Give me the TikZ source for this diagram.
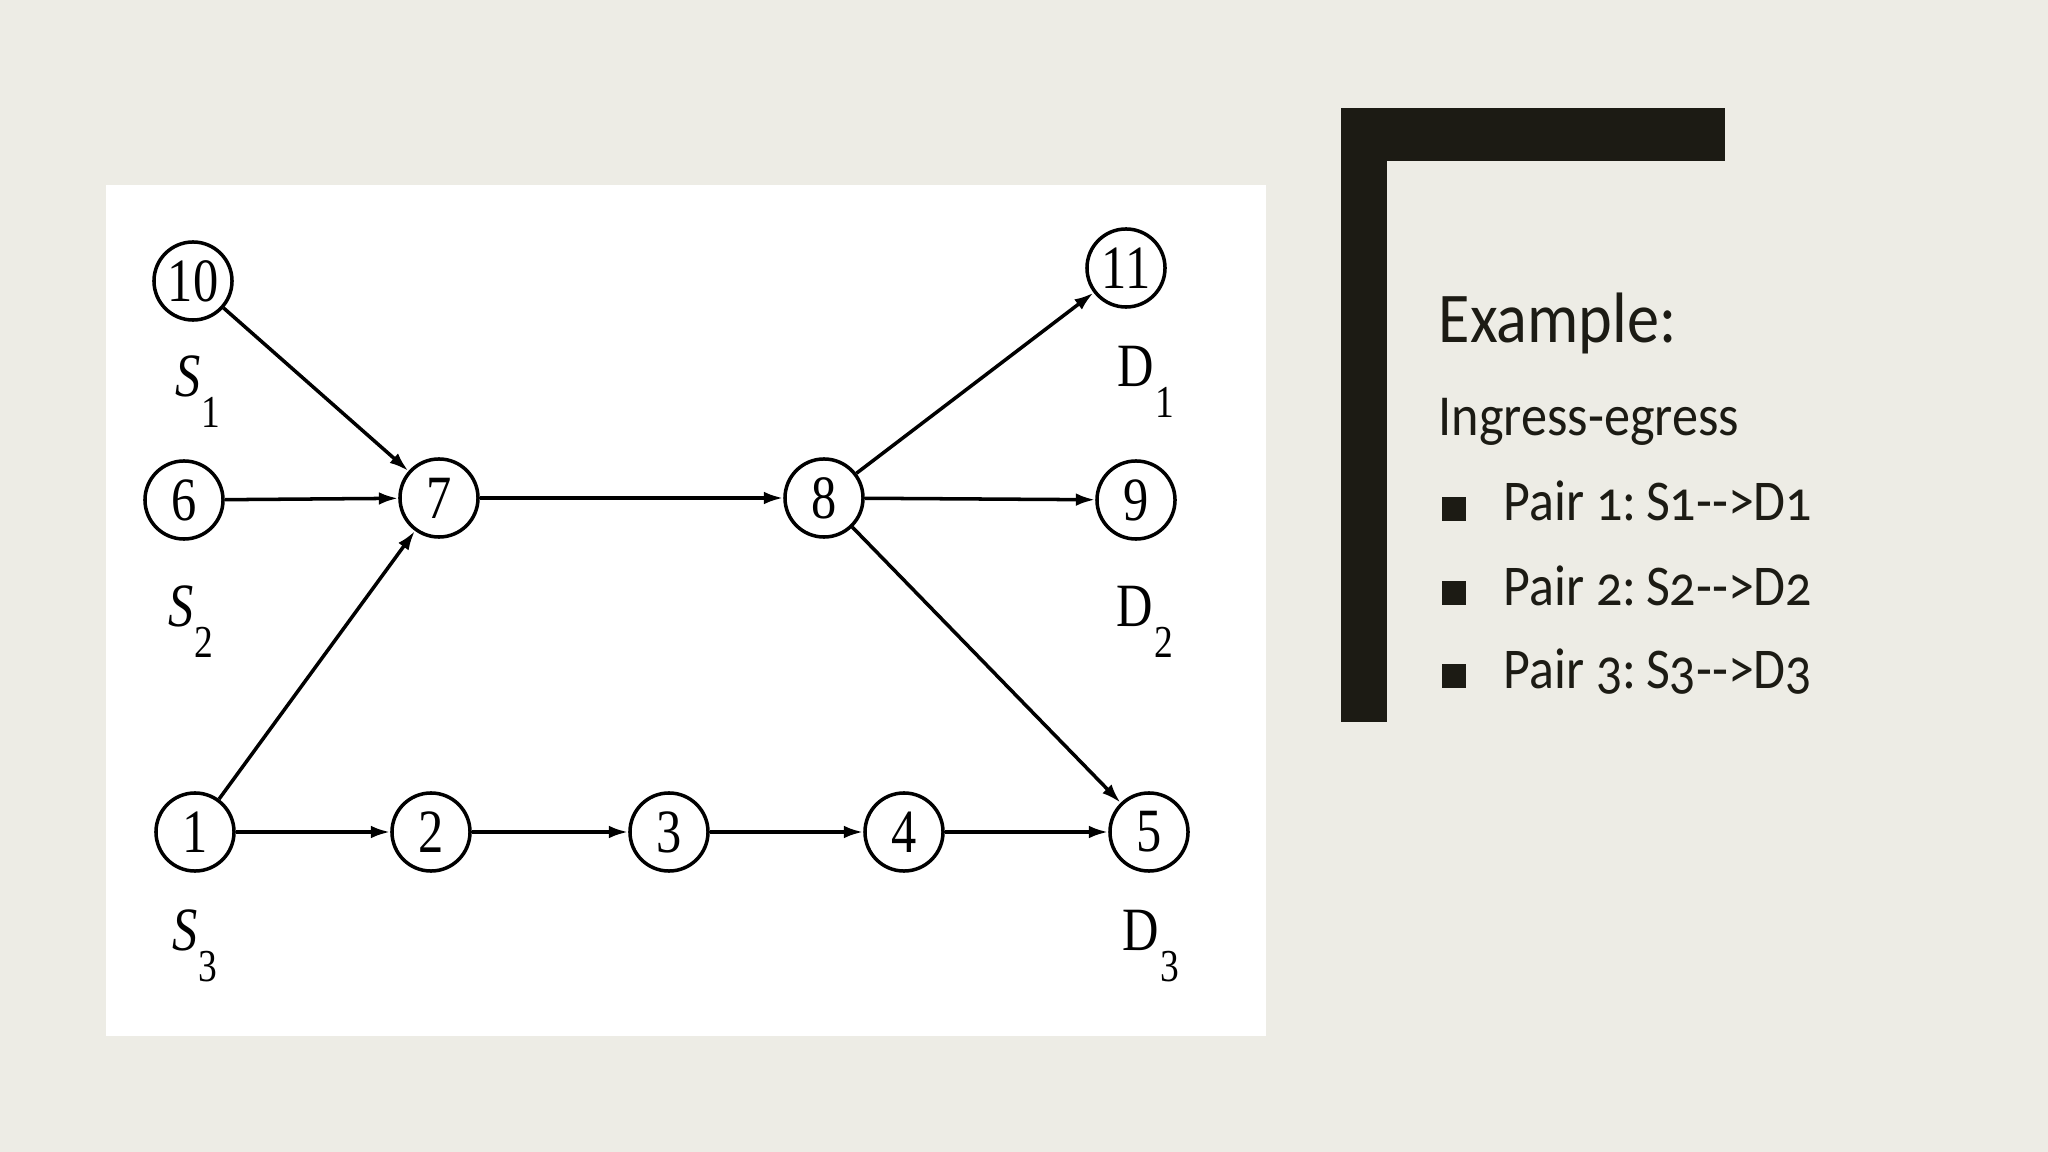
\documentclass[tikz,border=0pt]{standalone}
\usepackage{fontspec}
\setmainfont{Liberation Serif}
\newfontfamily\figfont[FakeStretch=0.82]{Liberation Serif}
\newfontfamily\slidefont[Numbers=OldStyle, FakeStretch=0.9]{Carlito}
\usetikzlibrary{arrows.meta}
\definecolor{slidebg}{HTML}{EDECE5}
\definecolor{barcol}{HTML}{1C1B14}
% label with a dropped index
\newcommand{\termlbl}[2]{#1\kern0.02em\raisebox{-0.5em}{\fontsize{13}{13}\selectfont #2}}
\begin{document}
\begin{tikzpicture}[x=0.01cm, y=-0.01cm,
    vertex/.style={draw, circle, line width=1pt, minimum size=0.78cm, inner sep=0pt, font=\figfont\fontsize{17.5}{17.5}\selectfont},
    lbl/.style={font=\figfont\fontsize{17.5}{17.5}\selectfont, inner sep=0pt},
    arr/.style={line width=1pt, -{Latex[length=5.5pt, width=3.6pt]}},
    item/.style={anchor=base west, font=\slidefont\fontsize{16.4}{16.4}\selectfont, text=barcol, inner sep=0pt}]
        % slide background and the white panel
        \useasboundingbox (0,0) rectangle (2048,1152);
        \fill [slidebg] (0,0) rectangle (2048,1152);
        \fill [white] (106,185) rectangle (1266,1036);

        % nodes
        \node [vertex] (n10) at (193,281) {10};
        \node [vertex] (n6) at (184,500) {6};
        \node [vertex] (n7) at (439,498) {7};
        \node [vertex] (n8) at (824,498) {8};
        \node [vertex] (n9) at (1136,500) {9};
        \node [vertex] (n11) at (1126,268) {11};
        \node [vertex] (n1) at (195,832) {1};
        \node [vertex] (n2) at (431,832) {2};
        \node [vertex] (n3) at (669,832) {3};
        \node [vertex] (n4) at (904,832) {4};
        \node [vertex] (n5) at (1149,832) {5};

        % sources and destinations
        \node [lbl] (s1) at (198,392) {\termlbl{\textit{S}}{1}};
        \node [lbl] (s2) at (191,622) {\termlbl{\textit{S}}{2}};
        \node [lbl] (s3) at (195,946) {\termlbl{\textit{S}}{3}};
        \node [lbl] (d1) at (1146,382) {\termlbl{D}{1}};
        \node [lbl] (d2) at (1145,622) {\termlbl{D}{2}};
        \node [lbl] (d3) at (1151,946) {\termlbl{D}{3}};

        % links
        \draw [arr] (n10) -- (n7);
        \draw [arr] (n6) -- (n7);
        \draw [arr] (n1) -- (n7);
        \draw [arr] (n7) -- (n8);
        \draw [arr] (n8) -- (n11);
        \draw [arr] (n8) -- (n9);
        \draw [arr] (n8) -- (n5);
        \draw [arr] (n1) -- (n2);
        \draw [arr] (n2) -- (n3);
        \draw [arr] (n3) -- (n4);
        \draw [arr] (n4) -- (n5);

        % bracket
        \fill [barcol] (1341,108) rectangle (1387,722);
        \fill [barcol] (1341,108) rectangle (1725,161);

        % text on the right
        \node [item, font=\slidefont\fontsize{20.3}{20.3}\selectfont] (title) at (1438,343) {Example:};
        \node [item, font=\slidefont\fontsize{16.5}{16.5}\selectfont] (sub) at (1438,436) {Ingress-egress};
        \foreach \i/\yy in {1/521, 2/605, 3/688} {
            \fill [barcol] (1442,\yy-24) rectangle (1466,\yy);
            \node [item] (pair\i) at (1503,\yy) {Pair \i:\kern-0.1em{} S\i-{}->D\i};
        }
    \end{tikzpicture}
\end{document}
